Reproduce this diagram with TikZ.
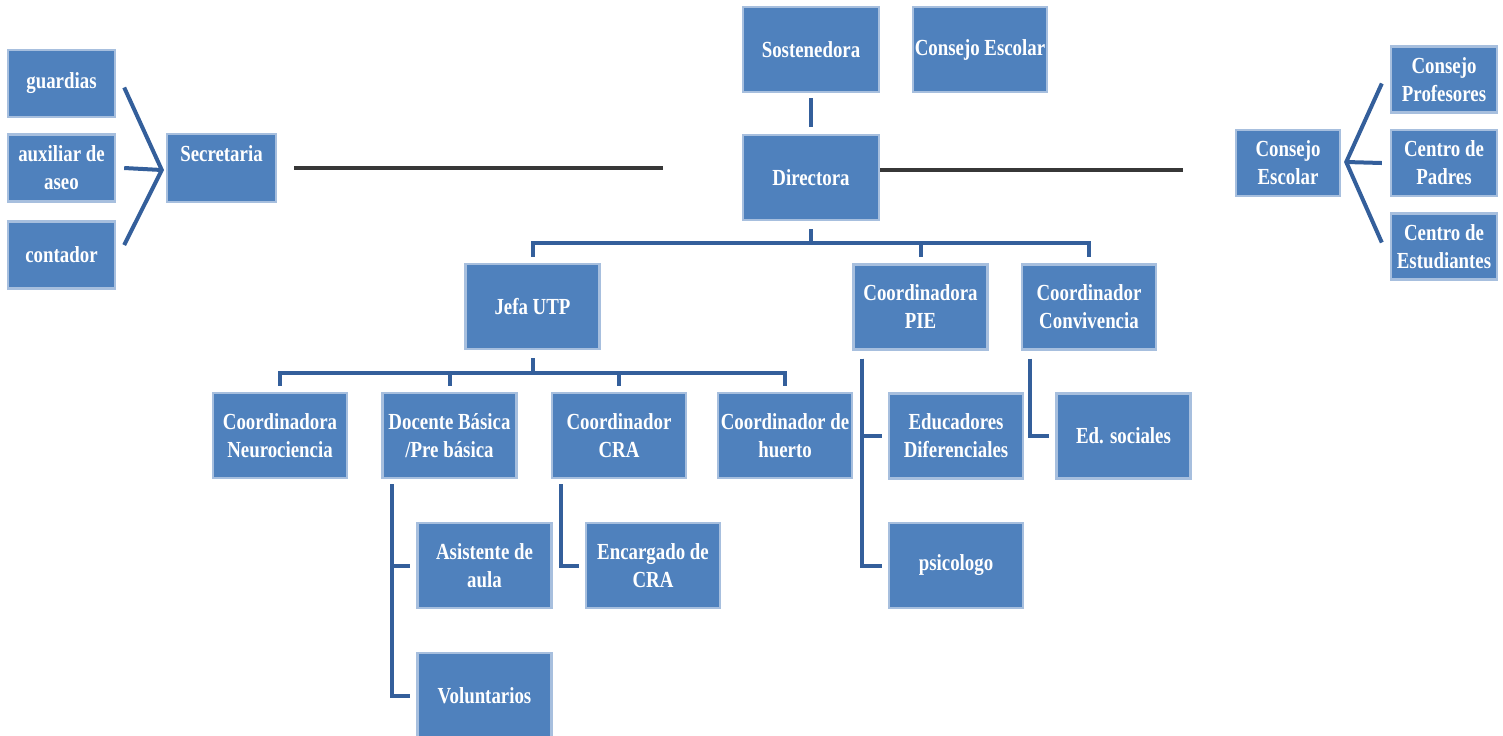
\documentclass[tikz,border=0pt]{standalone}
\usepackage{fontspec}
\setmainfont{Liberation Serif}[FakeStretch=0.82]
\definecolor{boxblue}{RGB}{79,129,189}
\definecolor{boxedge}{RGB}{167,191,222}
\definecolor{linkblue}{RGB}{52,95,155}
\definecolor{barline}{RGB}{55,55,55}
\begin{document}
\begin{tikzpicture}[x=0.5pt,y=-0.5pt,
  box/.style={rectangle,fill=boxblue,draw=boxedge,line width=1.2pt,inner sep=0pt,
              text=white,align=center,font=\fontsize{11.5}{14}\selectfont\bfseries,
              minimum width=67pt,minimum height=42.5pt},
  small/.style={box,minimum width=53.5pt,minimum height=33.5pt},
  link/.style={draw=linkblue,line width=2pt},
  bline/.style={draw=barline,line width=2pt}]
\useasboundingbox (0,0) rectangle (1503,735);

\node[small] (guard) at (61.5,83.5) {guardias};
\node[small] (aseo) at (61.5,168) {auxiliar de\\aseo};
\node[small] (cont) at (61.5,255) {contador};
\node[small,minimum width=54.5pt,minimum height=34pt] (secr) at (221.5,168) {Secretaria\\\mbox{}};

\node[box,minimum width=68pt] (sost) at (811,49.5) {Sostenedora};
\node[box] (cesc) at (980,49.5) {Consejo Escolar};
\node[box,minimum width=68pt] (dir) at (811,177.5) {Directora};

\node[box] (jefa) at (532.5,306.5) {Jefa UTP};
\node[box] (pie) at (920.5,307) {Coordinadora\\PIE};
\node[box] (conv) at (1089,307) {Coordinador\\Convivencia};

\node[box] (neuro) at (280,435.5) {Coordinadora\\Neurociencia};
\node[box] (doc) at (449.5,435.5) {Docente Básica\\/Pre básica};
\node[box] (cra) at (619,435.5) {Coordinador\\CRA};
\node[box] (huerto) at (785,435.5) {Coordinador de\\huerto};
\node[box] (educ) at (956,436) {Educadores\\Diferenciales};
\node[box] (edsoc) at (1123.5,436) {Ed. sociales};

\node[box] (asist) at (484.5,565.5) {Asistente de\\aula};
\node[box] (encra) at (653,565.5) {Encargado de\\CRA};
\node[box] (psico) at (956,565.5) {psicologo};
\node[box] (volun) at (484.5,695.5) {Voluntarios};

\node[small,minimum width=52pt,minimum height=33pt] (cesc2) at (1288,163) {Consejo\\Escolar};
\node[small,minimum width=53pt,minimum height=33pt] (prof) at (1444,79.5) {Consejo\\Profesores};
\node[small,minimum width=53pt,minimum height=33pt] (padres) at (1444,163) {Centro de\\Padres};
\node[small,minimum width=53pt,minimum height=33pt] (estud) at (1444,246.5) {Centro de\\Estudiantes};

\coordinate (secfan) at ([xshift=-2pt,yshift=-1pt]secr.west);
\draw[link] ([xshift=4pt,yshift=-2pt]guard.east) -- (secfan) -- ([xshift=4pt,yshift=5pt]cont.east);
\draw[link] ([xshift=4pt]aseo.east) -- (secfan);

\coordinate (cfan) at ([xshift=2.5pt,yshift=0.5pt]cesc2.east);
\draw[link] ([xshift=-4pt,yshift=-2pt]prof.west) -- (cfan) -- ([xshift=-4pt,yshift=2pt]estud.west);
\draw[link] ([xshift=-4pt]padres.west) -- (cfan);

\coordinate (sline) at (663,168);
\coordinate (dline) at (1183,169.5);
\draw[bline] ([xshift=8.5pt]secr.east) -- (sline);
\draw[bline] ([yshift=4pt]dir.east) -- (dline);

\draw[link,shorten <=2.5pt,shorten >=3.5pt] (sost) -- (dir);

\foreach \k in {jefa,pie,conv}
  \draw[link] ([yshift=-4pt]dir.south) -- ++(0,14) -| ([yshift=3pt]\k.north);
\foreach \k in {neuro,doc,cra,huerto}
  \draw[link] ([yshift=-4pt]jefa.south) -- ++(0,15) -| ([yshift=3pt]\k.north);

\foreach \k in {asist,volun}
  \draw[link] ([xshift=5.5pt,yshift=-2.5pt]doc.south west) |- ([xshift=-3pt]\k.west);
\draw[link] ([xshift=5pt,yshift=-2.5pt]cra.south west) |- ([xshift=-3pt]encra.west);
\foreach \k in {educ,psico}
  \draw[link] ([xshift=5pt,yshift=-4pt]pie.south west) |- ([xshift=-3pt]\k.west);
\draw[link] ([xshift=4.5pt,yshift=-4pt]conv.south west) |- ([xshift=-3pt]edsoc.west);
\end{tikzpicture}
\end{document}
